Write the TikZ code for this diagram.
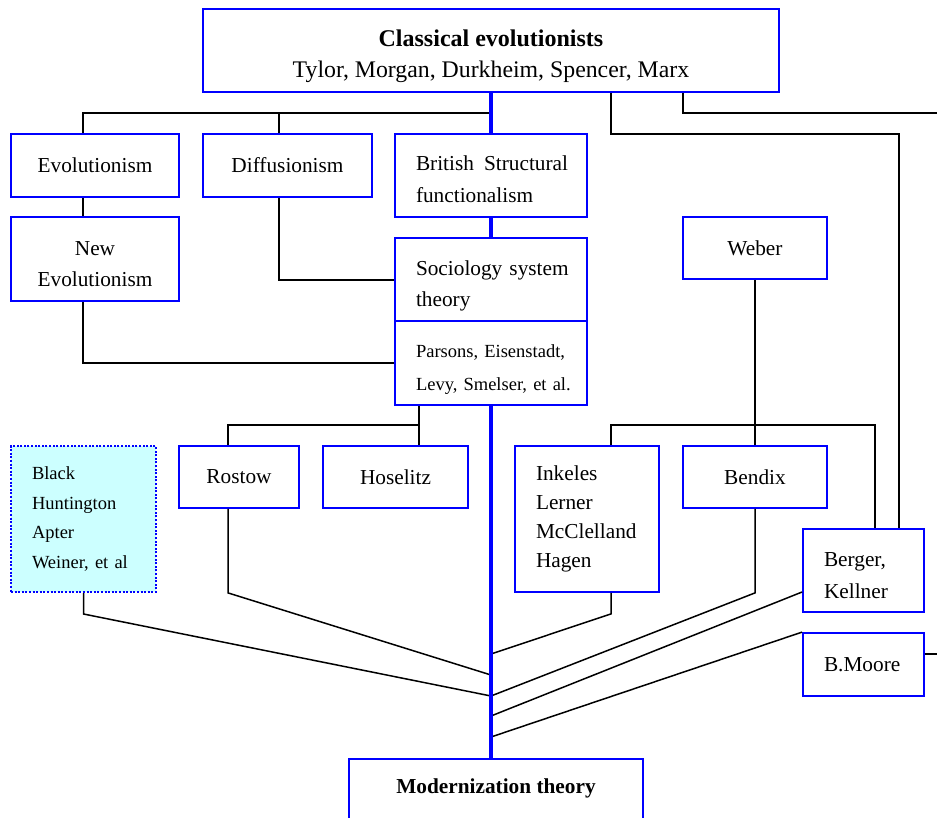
\documentclass[tikz,border=0pt]{standalone}
\usepackage{fontspec}
\setmainfont{Liberation Serif}
\usetikzlibrary{calc}

\definecolor{boxblue}{RGB}{0,0,255}
\definecolor{paleCyan}{RGB}{204,255,255}

% type sizes used in the chart
\newcommand\fsbody{\fontsize{21.3pt}{31.5pt}\selectfont}
\newcommand\fslist{\fontsize{21.3pt}{29pt}\selectfont}
\newcommand\fsnames{\fontsize{18.5pt}{33pt}\selectfont}
\newcommand\fssmalllist{\fontsize{18.5pt}{29.5pt}\selectfont}
\newcommand\fstop{\fontsize{23.8pt}{31pt}\selectfont}
\newcommand\fsbold{\fontsize{21.3pt}{31pt}\selectfont\bfseries}
\newcommand\fstitle{\fontsize{24pt}{31pt}\selectfont\bfseries}

\tikzset{
  frame/.style={draw=boxblue, line width=1.8pt, fill=white, inner sep=0pt, font=\fsbody,
    execute at begin node={\hyphenpenalty=10000\exhyphenpenalty=10000}},
  cbox/.style={frame, align=center},
  lbox/.style={frame, align=left},
  dotbox/.style={frame, fill=paleCyan, align=left, dash pattern=on 2pt off 1.6pt, line width=2pt},
  link/.style={draw=black, line width=1.5pt},
  trunk/.style={draw=boxblue, line width=3.6pt},
}

\begin{document}
\begin{tikzpicture}[x=1pt,y=-1pt]
\useasboundingbox (0,0) rectangle (937,818);
\fill[white] (0,0) rectangle (937,818);
\clip (0,0) rectangle (937,818);

% ---- boxes ----
\node[cbox, font=\fstop, minimum width=576pt, minimum height=83pt] (top) at (491,50.5)
  {\rule{0pt}{29pt}{\fstitle Classical evolutionists}\\Tylor, Morgan, Durkheim, Spencer, Marx};

\node[cbox, minimum width=168pt, minimum height=63pt] (evo) at (95,165.5) {Evolutionism};
\node[cbox, minimum width=169pt, minimum height=63pt] (diff) at (287.5,165.5) {Diffusionism};
\node[lbox, minimum width=192pt, minimum height=83pt, text width=150pt] (brit) at (491,175.5)
  {\rule{0pt}{22.5pt}\mbox{British~\hspace{3pt}Structural}\\\mbox{functionalism}};

\node[cbox, minimum width=168pt, minimum height=84pt] (newevo) at (95,259)
  {\rule{0pt}{24pt}New\\Evolutionism};
\node[lbox, minimum width=192pt, minimum height=84pt, text width=150pt] (soc) at (491,280)
  {\rule{0pt}{26.5pt}\mbox{Sociology system}\\\mbox{theory}};
\node[lbox, font=\fsnames, minimum width=192pt, minimum height=84pt, text width=150pt] (pars) at (491,363)
  {\rule{0pt}{26.5pt}\mbox{Parsons, Eisenstadt,}\\\mbox{Levy, Smelser, et al.}};
\node[cbox, minimum width=144pt, minimum height=62pt] (weber) at (755,248) {Weber};

\node[dotbox, font=\fssmalllist, minimum width=145pt, minimum height=146pt, text width=103pt] (black) at (83.5,519)
  {Black\\Huntington\\Apter\\\mbox{Weiner, et al}};
\node[cbox, minimum width=120pt, minimum height=62pt] (rostow) at (239,477) {Rostow};
\node[cbox, minimum width=145pt, minimum height=62pt] (hoselitz) at (395.5,477) {Hoselitz};
\node[lbox, font=\fslist, minimum width=144pt, minimum height=146pt, text width=102pt] (inkeles) at (587,519)
  {Inkeles\\Lerner\\\mbox{McClelland}\\Hagen};
\node[cbox, minimum width=144pt, minimum height=62pt] (bendix) at (755,477) {Bendix};
\node[lbox, minimum width=121pt, minimum height=83pt, text width=79pt] (berger) at (863.5,570.5)
  {\rule{0pt}{24pt}Berger,\\Kellner};
\node[lbox, minimum width=121pt, minimum height=63pt, text width=79pt] (moore) at (863.5,664.5) {B.Moore};

\node[frame, minimum width=294pt, minimum height=100pt] (modern) at (496,809) {};
\node[font=\fsbold] (moderntext) at (496,788) {Modernization theory};

% ---- junction points ----
\coordinate (hubA) at (491,113);
\coordinate (hubB) at (755,425);
\coordinate (hubC) at (419,425);
\coordinate (edgeA) at (937,113);
\coordinate (edgeB) at (937,654);
\coordinate (meetA) at (491,654);
\coordinate (meetB) at (491,675);
\coordinate (meetC) at (491,696);
\coordinate (meetD) at (491,716);
\coordinate (meetE) at (491,737);

% ---- upper connectors ----
\draw[link] ([xshift=-12pt]evo.north) |- (hubA);
\draw[link] ([xshift=-8.5pt]diff.north) -- ([xshift=-8.5pt]diff.north |- hubA);
\draw[link] ([xshift=120pt]top.south) -- ++(0,41) -| ([xshift=35.5pt]berger.north);
\draw[link] ([xshift=192pt]top.south) |- (edgeA);
\draw[link] ([xshift=-12pt]evo.south) -- ([xshift=-12pt]newevo.north);
\draw[link] ([xshift=-8.5pt]diff.south) |- (soc.west);
\draw[link] ([xshift=-12pt]newevo.south) |- (pars.west);
\draw[link] (weber.south) -- (hubB);
\draw[link] ([xshift=24pt]inkeles.north) |- (hubB) -| ([xshift=11.5pt]berger.north);
\draw[link] (bendix.north) -- (hubB);
\draw[link] ([xshift=-72pt]pars.south) -- ([xshift=23.5pt]hoselitz.north);
\draw[link] (hubC) -| ([xshift=-11pt]rostow.north);

% ---- lower connectors into the trunk ----
\draw[link] (black.south) -- ++(0,21) -- (meetC);
\draw[link] ([xshift=-11pt]rostow.south) -- ++(0,84) -- (meetB);
\draw[link] ([xshift=24pt]inkeles.south) -- ++(0,21) -- (meetA);
\draw[link] (bendix.south) -- ++(0,84) -- (meetC);
\draw[link] ([yshift=-21.5pt]berger.west) -- (meetD);
\draw[link] (moore.north west) -- (meetE);
\draw[link] ([yshift=10.5pt]moore.east) -- (edgeB);

% ---- main trunk ----
\draw[trunk] (top.south) -- (brit.north);
\draw[trunk] (brit.south) -- (soc.north);
\draw[trunk] (pars.south) -- (pars.south |- modern.north);
\end{tikzpicture}
\end{document}
